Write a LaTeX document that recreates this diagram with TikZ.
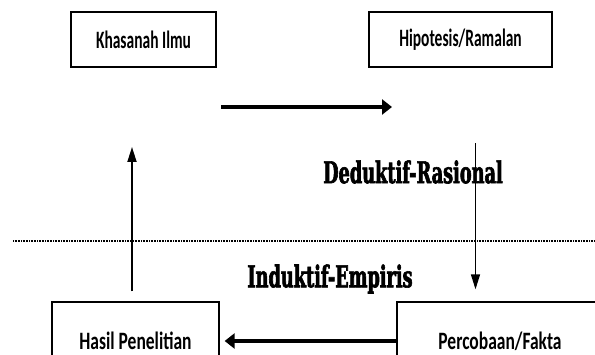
\documentclass[tikz,border=0pt]{standalone}
\usepackage{fontspec}
\usepackage{tikz}
\usetikzlibrary{arrows.meta,positioning}
\newfontfamily\boxfont[FakeStretch=0.62]{Carlito}
\newfontfamily\boxfontwide[FakeStretch=0.7]{Carlito}
\newfontfamily\slabfont[FakeStretch=0.59,BoldFeatures={FakeBold=2}]{DejaVu Serif}

\begin{document}
\begin{tikzpicture}[x=1pt,y=-1pt,
  box/.style={rectangle,draw,line width=1.3pt,inner sep=0pt,
    minimum height=55pt,align=center,
    font=\boxfont\fontsize{25}{27}\selectfont\bfseries},
  lowbox/.style={box,minimum height=78pt,
    font=\boxfontwide\fontsize{25}{27}\selectfont\bfseries},
  flowtext/.style={font=\slabfont\fontsize{30}{32}\selectfont\bfseries},
  bigarrow/.style={-{Triangle[length=10pt,width=15pt]},line width=3.3pt},
  thinarrow/.style={-{Triangle[length=15pt,width=9pt]},line width=1.8pt}
]
  \useasboundingbox (0,0) rectangle (595,355);
  \clip (0,0) rectangle (595,355);

  \node[box,minimum width=145pt] (ilmu) at (143.5,39.5) {Khasanah Ilmu};
  \node[box,minimum width=183pt] (hipotesis) at (460.5,39.5) {Hipotesis/Ramalan};
  \node[lowbox,minimum width=167pt] (hasil) at (135.5,341) {Hasil Penelitian};
  \node[lowbox,minimum width=206pt] (fakta) at (500,341) {Percobaan/Fakta};

  \node[flowtext] (deduktif) at (413,172) {Deduktif-Rasional};
  \node[flowtext] (induktif) at (330,279) {Induktif-Empiris};

  \coordinate (kanan0) at (221,107);
  \coordinate (kanan1) at (392,107);
  \coordinate (naik) at (132,147);
  \coordinate (turun) at (475.5,143.5);

  \draw[line width=1.5pt,dash pattern=on 1pt off 0.6pt] (13,241) -- (595,241);

  \draw[bigarrow] (kanan0) -- (kanan1);
  \draw[thinarrow,line width=1.4pt] (turun) -- (turun |- fakta.north)
    [shorten >=12pt];
  \draw[bigarrow,shorten >=5pt] (fakta.west) -- (hasil.east);
  \draw[thinarrow,shorten <=10pt] (naik |- hasil.north) -- (naik);
\end{tikzpicture}
\end{document}
